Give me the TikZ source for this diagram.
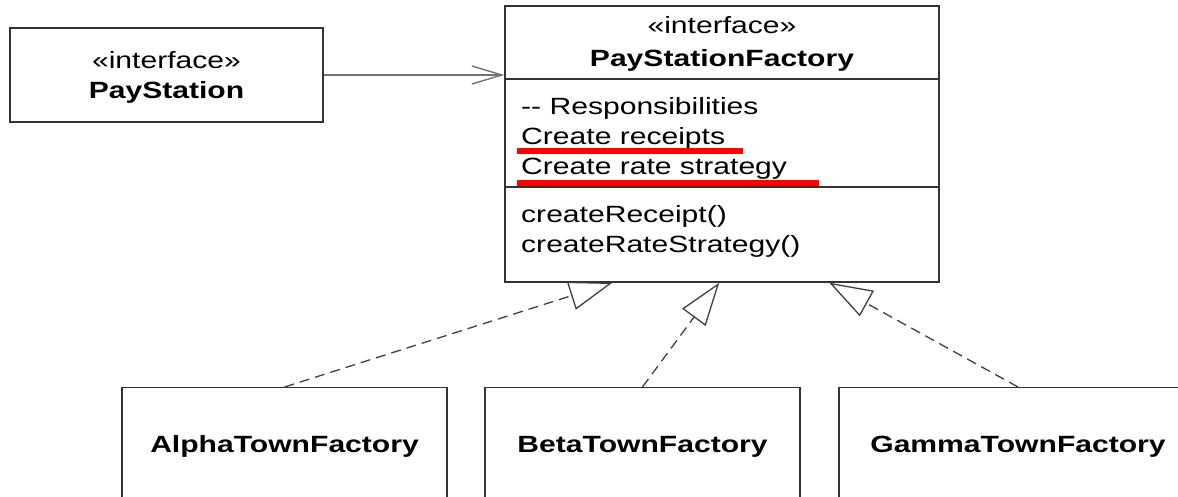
\documentclass[tikz,border=0pt]{standalone}
\usepackage{fontspec}
\setmainfont{Liberation Sans}[FakeStretch=1.28]
\usetikzlibrary{arrows.meta,calc}
\begin{document}
\begin{tikzpicture}[x=1pt,y=-1pt,
  umlbox/.style={draw=black!80, line width=1.4pt, fill=white, inner sep=0pt, rectangle},
  txt/.style={inner sep=0pt, font=\fontsize{23.5}{30}\selectfont},
  btxt/.style={txt, font=\fontsize{23.5}{30}\selectfont\bfseries},
  realize/.style={draw=black!75, line width=1.3pt, dash pattern=on 10pt off 6pt,
    -{Triangle[open, length=43pt, width=29pt]}},
  assoc/.style={draw=black!55, line width=1.4pt, -{Straight Barb[length=30pt, width=18pt]}},
  hilite/.style={draw=red, line width=6pt}
]
\useasboundingbox[fill=white] (0,0) rectangle (1178,496);

% PayStation
\node[umlbox, minimum width=313pt, minimum height=94pt] (ps) at (166.5,75) {};
\node[txt, anchor=base] (psst) at (166.5,68) {«interface»};
\node[btxt, anchor=base] (psnm) at (166.5,98) {PayStation};

% PayStationFactory
\node[umlbox, minimum width=434pt, minimum height=276pt] (f) at (722,144) {};
\coordinate (d1) at (505,79);
\coordinate (d2) at (505,187);
\draw[draw=black!80, line width=1.4pt] (d1) -- (d1 -| f.east);
\draw[draw=black!80, line width=1.4pt] (d2) -- (d2 -| f.east);
\node[txt, anchor=base] (fst) at (722,33) {«interface»};
\node[btxt, anchor=base] (fnm) at (722,66) {PayStationFactory};
\node[txt, anchor=base west] (r0) at (521,114) {-{}- Responsibilities};
\node[txt, anchor=base west] (r1) at (521,144) {Create receipts};
\node[txt, anchor=base west] (r2) at (521,174) {Create rate strategy};
\node[txt, anchor=base west] (m1) at (521,222) {createReceipt()};
\node[txt, anchor=base west] (m2) at (521,252) {createRateStrategy()};
\draw[hilite] (517,151) -- (743,151);
\draw[hilite] (517,183) -- (819,183);

% concrete factories
\node[umlbox, minimum width=325pt, minimum height=130pt, anchor=north, text height=8pt, text depth=8pt, font=\fontsize{23.5}{30}\selectfont\bfseries] (a) at (284.5,387) {AlphaTownFactory};
\node[umlbox, minimum width=315pt, minimum height=130pt, anchor=north, text height=8pt, text depth=8pt, font=\fontsize{23.5}{30}\selectfont\bfseries] (b) at (642.5,387) {BetaTownFactory};
\node[umlbox, minimum width=358pt, minimum height=130pt, anchor=north, text height=8pt, text depth=8pt, font=\fontsize{23.5}{30}\selectfont\bfseries] (g) at (1018,387) {GammaTownFactory};

% connectors
\draw[assoc] (ps.east) -- (ps.east -| f.west);
\coordinate (ta) at ($(f.south west)+(108,0)$);
\coordinate (tb) at ($(f.south west)+(215,0)$);
\coordinate (tg) at ($(f.south west)+(325,0)$);
\draw[realize] (a.north) -- (ta);
\draw[realize] (b.north) -- (tb);
\draw[realize] (g.north) -- (tg);
\end{tikzpicture}
\end{document}
